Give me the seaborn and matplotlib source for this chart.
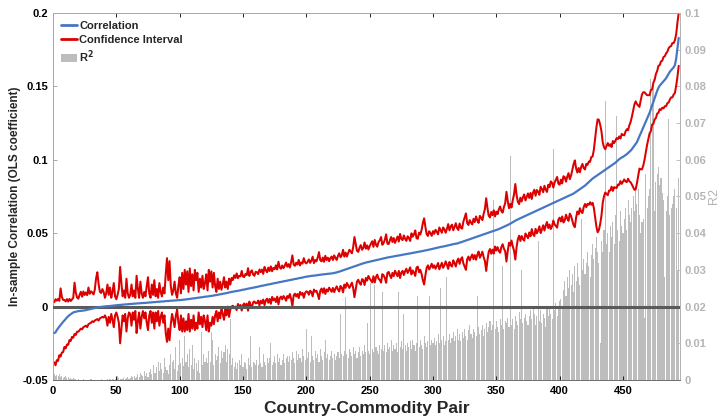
import numpy as np
import pandas as pd
import matplotlib
matplotlib.use("Agg")
import matplotlib.pyplot as plt
from matplotlib.patches import Patch
from matplotlib.lines import Line2D
import seaborn as sns

# Correlation (OLS coefficient) per country-commodity pair, sorted, in units of 1e-4
corr_e4 = [
    -180, -175, -160, -148, -136, -126, -115, -104, -95, -85, -74, -66, -58, -52, -46, -40, -37, -35, -33, -31,
    -30, -29, -28, -27, -26, -24, -22, -20, -18, -16, -14, -12, -10, -8, -6, -5, -4, -2, -1, 0,
    1, 2, 3, 3, 4, 5, 6, 7, 8, 9, 10, 11, 11, 12, 13, 14, 15, 15, 16, 17,
    18, 18, 19, 20, 20, 21, 22, 22, 23, 24, 24, 25, 25, 26, 27, 28, 28, 29, 30, 30,
    31, 32, 33, 33, 34, 35, 35, 36, 37, 38, 38, 39, 40, 40, 41, 42, 42, 43, 44, 44,
    45, 46, 47, 48, 49, 50, 51, 52, 54, 55, 56, 57, 58, 60, 61, 62, 63, 64, 66, 67,
    68, 69, 70, 72, 73, 74, 76, 77, 79, 80, 82, 84, 85, 87, 89, 90, 92, 94, 96, 98,
    100, 101, 103, 105, 106, 108, 109, 111, 113, 115, 116, 118, 120, 122, 124, 125, 127, 129, 130, 132,
    134, 136, 138, 140, 142, 143, 145, 147, 149, 151, 152, 154, 156, 158, 160, 161, 163, 165, 167, 168,
    170, 172, 174, 175, 177, 179, 181, 182, 184, 186, 188, 189, 191, 193, 195, 196, 198, 200, 202, 204,
    205, 206, 208, 209, 210, 211, 212, 213, 214, 216, 217, 218, 219, 220, 221, 222, 223, 224, 225, 226,
    227, 229, 231, 233, 236, 238, 241, 244, 247, 250, 253, 256, 259, 262, 265, 268, 271, 274, 277, 280,
    283, 286, 289, 292, 295, 297, 300, 302, 304, 306, 308, 310, 312, 314, 316, 318, 320, 322, 324, 326,
    328, 330, 332, 334, 336, 337, 339, 340, 342, 344, 345, 347, 348, 350, 351, 353, 355, 356, 358, 359,
    361, 362, 364, 366, 367, 369, 371, 372, 374, 376, 377, 379, 381, 383, 384, 386, 388, 390, 392, 394,
    396, 398, 400, 402, 404, 406, 408, 409, 411, 413, 415, 417, 419, 421, 423, 425, 427, 428, 430, 432,
    436, 438, 441, 444, 447, 450, 453, 456, 459, 462, 465, 468, 471, 474, 477, 480, 483, 486, 489, 492,
    495, 498, 501, 504, 507, 510, 513, 516, 519, 522, 525, 528, 532, 536, 540, 544, 548, 552, 556, 560,
    565, 570, 575, 580, 585, 590, 594, 598, 602, 606, 610, 614, 618, 622, 626, 630, 634, 638, 642, 646,
    650, 654, 658, 662, 666, 670, 674, 678, 682, 686, 690, 694, 698, 702, 706, 710, 714, 718, 722, 726,
    730, 734, 738, 742, 746, 750, 754, 758, 762, 766, 770, 776, 782, 788, 794, 800, 806, 812, 818, 824,
    832, 840, 848, 856, 864, 872, 878, 884, 890, 896, 902, 908, 914, 920, 926, 932, 938, 944, 950, 956,
    962, 968, 974, 980, 988, 996, 1004, 1010, 1016, 1020, 1026, 1032, 1038, 1046, 1054, 1062, 1072, 1084, 1096, 1108,
    1120, 1140, 1160, 1180, 1200, 1220, 1240, 1260, 1280, 1300, 1320, 1345, 1370, 1395, 1420, 1445, 1470, 1490, 1505, 1515,
    1525, 1535, 1545, 1555, 1570, 1585, 1600, 1610, 1620, 1630, 1645, 1690, 1760, 1830,
]

# Distance from the correlation up to the upper confidence bound, units of 1e-4
ci_up_e4 = [
    210, 225, 200, 200, 175, 250, 180, 150, 140, 120, 125, 100, 110, 90, 95, 100, 200, 130, 95, 85,
    110, 130, 95, 130, 105, 120, 100, 150, 105, 120, 110, 95, 125, 200, 240, 160, 105, 95, 120, 100,
    59, 88, 147, 77, 126, 55, 94, 153, 62, 41, 70, 109, 259, 148, 57, 96, 45, 175, 74, 43,
    62, 132, 51, 90, 40, 189, 98, 38, 147, 66, 36, 75, 45, 114, 173, 62, 32, 121, 50, 150,
    39, 88, 27, 127, 66, 35, 95, 54, 183, 292, 142, 271, 100, 40, 69, 128, 48, 17, 96, 156,
    45, 184, 73, 202, 101, 190, 49, 208, 86, 165, 54, 193, 122, 170, 39, 128, 67, 146, 54, 93,
    152, 41, 180, 98, 167, 56, 154, 63, 21, 110, 38, 86, 30, 63, 111, 40, 78, 26, 94, 52,
    95, 80, 110, 90, 120, 85, 100, 95, 130, 90, 85, 105, 95, 140, 85, 110, 120, 90, 80, 105,
    100, 85, 115, 95, 110, 80, 125, 100, 85, 115, 90, 120, 85, 105, 95, 120, 90, 140, 100, 90,
    110, 90, 105, 125, 95, 110, 85, 120, 165, 100, 90, 110, 95, 125, 85, 105, 95, 130, 100, 90,
    100, 115, 90, 105, 130, 85, 105, 95, 120, 155, 100, 90, 115, 85, 125, 95, 110, 85, 105, 115,
    90, 120, 100, 85, 110, 125, 95, 105, 140, 90, 115, 85, 105, 125, 110, 95, 135, 200, 150, 100,
    90, 115, 130, 95, 105, 140, 95, 115, 85, 105, 120, 135, 95, 140, 105, 90, 120, 130, 150, 95,
    105, 125, 160, 95, 90, 115, 135, 100, 125, 90, 110, 130, 95, 145, 110, 100, 130, 105, 90, 120,
    105, 85, 135, 110, 125, 150, 95, 90, 130, 115, 145, 190, 220, 160, 110, 95, 125, 110, 90, 120,
    100, 125, 110, 90, 135, 115, 95, 130, 115, 90, 115, 145, 100, 125, 135, 95, 115, 140, 105, 90,
    130, 100, 90, 135, 160, 185, 115, 100, 130, 110, 95, 130, 105, 140, 110, 90, 135, 120, 100, 140,
    170, 240, 170, 115, 100, 135, 110, 140, 95, 125, 105, 135, 150, 115, 100, 135, 155, 230, 165, 110,
    135, 105, 150, 185, 250, 170, 120, 100, 140, 110, 135, 150, 105, 125, 145, 110, 140, 95, 135, 150,
    105, 140, 125, 100, 150, 130, 105, 145, 115, 95, 140, 120, 155, 140, 105, 135, 150, 165, 115, 105,
    135, 105, 150, 140, 105, 135, 155, 110, 130, 165, 200, 220, 160, 125, 150, 115, 145, 160, 125, 110,
    140, 125, 140, 130, 155, 150, 190, 260, 330, 380, 370, 330, 280, 200, 160, 140, 155, 170, 145, 150,
    125, 160, 140, 150, 160, 145, 155, 135, 160, 150, 140, 160, 170, 155, 180, 195, 220, 250, 280, 290,
    260, 230, 200, 225, 245, 240, 220, 190, 160, 140, 120, 130, 110, 130, 125, 140, 135, 150, 140, 155,
    150, 165, 160, 170, 165, 175, 170, 165, 175, 165, 170, 165, 175, 170,
]

# Distance from the correlation down to the lower confidence bound, units of 1e-4
ci_lo_e4 = [
    200, 225, 205, 222, 195, 214, 198, 206, 180, 200, 185, 194, 170, 182, 160, 172, 150, 158, 138, 140,
    130, 121, 127, 113, 109, 106, 118, 100, 97, 94, 86, 93, 85, 82, 79, 90, 76, 73, 69, 75,
    61, 82, 133, 73, 114, 55, 96, 147, 68, 49, 80, 121, 261, 162, 73, 114, 65, 185, 96, 57,
    68, 148, 59, 110, 50, 201, 122, 62, 173, 94, 54, 105, 65, 136, 187, 88, 58, 139, 70, 180,
    71, 132, 63, 163, 104, 75, 145, 96, 217, 278, 188, 269, 160, 90, 131, 182, 102, 63, 154, 204,
    105, 216, 127, 218, 149, 210, 101, 222, 144, 205, 116, 217, 168, 210, 101, 182, 133, 204, 126, 167,
    228, 129, 240, 182, 203, 144, 196, 137, 109, 180, 122, 164, 95, 137, 179, 110, 152, 94, 166, 118,
    100, 95, 115, 105, 130, 90, 110, 100, 140, 105, 95, 120, 100, 150, 90, 115, 135, 100, 95, 110,
    110, 95, 130, 100, 120, 95, 135, 105, 95, 125, 100, 135, 90, 115, 105, 130, 95, 150, 110, 100,
    120, 100, 115, 135, 105, 120, 95, 130, 180, 110, 100, 120, 105, 135, 95, 115, 105, 140, 110, 100,
    105, 125, 100, 110, 140, 95, 110, 105, 130, 165, 110, 95, 125, 95, 135, 105, 120, 95, 110, 125,
    100, 130, 110, 95, 120, 135, 100, 115, 150, 100, 125, 95, 115, 135, 120, 105, 145, 210, 160, 110,
    100, 125, 140, 105, 115, 150, 105, 125, 95, 115, 130, 145, 105, 150, 115, 100, 130, 140, 160, 105,
    115, 135, 170, 105, 100, 125, 145, 110, 135, 100, 120, 140, 105, 155, 120, 110, 140, 115, 100, 130,
    115, 95, 145, 120, 135, 160, 105, 100, 140, 125, 155, 200, 230, 170, 120, 105, 135, 120, 100, 130,
    115, 140, 125, 105, 150, 130, 110, 145, 130, 105, 130, 160, 115, 140, 150, 110, 130, 155, 120, 105,
    145, 115, 105, 150, 175, 200, 130, 115, 145, 125, 110, 145, 120, 155, 125, 105, 150, 135, 115, 155,
    185, 255, 185, 130, 115, 150, 125, 155, 110, 140, 120, 150, 165, 130, 115, 150, 170, 245, 180, 125,
    150, 120, 165, 200, 265, 185, 135, 115, 155, 125, 150, 165, 120, 140, 160, 125, 155, 110, 150, 165,
    120, 155, 140, 115, 165, 145, 120, 160, 130, 110, 155, 135, 170, 155, 120, 150, 165, 180, 130, 120,
    150, 120, 165, 155, 120, 150, 170, 125, 145, 180, 215, 235, 175, 140, 165, 130, 160, 175, 140, 125,
    155, 140, 155, 145, 170, 165, 205, 275, 345, 390, 380, 345, 295, 215, 175, 155, 170, 185, 160, 165,
    145, 180, 160, 170, 180, 165, 175, 155, 180, 170, 160, 180, 190, 175, 200, 215, 240, 270, 300, 310,
    280, 250, 220, 245, 265, 260, 240, 210, 180, 160, 140, 150, 130, 150, 145, 160, 155, 170, 160, 175,
    170, 185, 180, 190, 185, 195, 190, 185, 195, 185, 190, 185, 195, 190,
]

# R^2 of each regression, units of 1e-4
r2_e4 = [
    15, 12, 14, 10, 16, 8, 12, 6, 9, 11, 5, 7, 4, 6, 3, 5, 2, 3, 1, 2,
    1, 0, 1, 2, 0, 1, 0, 1, 0, 2, 1, 0, 1, 0, 0, 1, 0, 2, 1, 0,
    1, 0, 2, 1, 3, 1, 2, 4, 2, 8, 12, 5, 3, 4, 2, 6, 3, 5, 8, 4,
    6, 10, 7, 12, 5, 8, 15, 9, 20, 14, 10, 25, 12, 18, 8, 22, 30, 15, 40, 20,
    18, 35, 50, 25, 45, 30, 20, 60, 35, 28, 15, 40, 70, 48, 55, 30, 90, 25, 40, 110,
    45, 60, 38, 120, 50, 70, 35, 85, 40, 95, 30, 60, 45, 25, 55, 20, 130, 40, 70, 50,
    60, 45, 80, 50, 130, 110, 40, 70, 55, 65, 90, 45, 80, 60, 75, 95, 50, 85, 70, 165,
    40, 60, 35, 50, 30, 45, 55, 40, 70, 35, 50, 45, 30, 60, 40, 120, 35, 50, 45, 40,
    55, 40, 90, 45, 35, 70, 50, 40, 60, 45, 60, 100, 40, 50, 65, 45, 70, 50, 60, 40,
    55, 70, 45, 60, 65, 50, 65, 55, 75, 60, 45, 80, 55, 70, 60, 50, 85, 65, 55, 140,
    60, 75, 50, 120, 65, 55, 80, 60, 70, 50, 85, 65, 55, 75, 110, 60, 70, 55, 65, 80,
    60, 70, 55, 65, 75, 60, 180, 70, 65, 80, 225, 70, 60, 85, 75, 65, 90, 70, 80, 60,
    75, 90, 65, 80, 70, 95, 75, 155, 80, 70, 265, 85, 75, 260, 90, 80, 70, 95, 85, 240,
    80, 95, 75, 100, 85, 90, 110, 80, 95, 85, 100, 75, 240, 90, 105, 85, 180, 95, 80, 100,
    90, 105, 85, 110, 95, 80, 100, 230, 90, 110, 95, 85, 120, 100, 90, 105, 230, 95, 110, 100,
    115, 95, 105, 125, 100, 250, 110, 120, 95, 105, 280, 110, 125, 100, 115, 130, 105, 120, 140, 110,
    125, 105, 130, 115, 140, 120, 110, 135, 150, 125, 115, 140, 130, 120, 230, 145, 125, 135, 150, 120,
    140, 155, 130, 145, 160, 135, 150, 490, 140, 160, 145, 130, 165, 150, 310, 140, 160, 155, 170, 145,
    610, 150, 165, 140, 175, 160, 150, 185, 165, 300, 155, 170, 180, 160, 150, 175, 190, 165, 200, 180,
    150, 175, 380, 160, 190, 155, 180, 170, 145, 195, 175, 200, 180, 165, 630, 190, 210, 175, 200, 215,
    220, 200, 245, 270, 230, 280, 250, 300, 260, 290, 240, 310, 270, 320, 280, 260, 440, 300, 330, 290,
    320, 350, 310, 280, 340, 370, 330, 360, 390, 350, 320, 100, 380, 350, 410, 760, 370, 400, 350, 420,
    390, 430, 370, 450, 720, 410, 380, 460, 420, 400, 440, 470, 410, 490, 450, 430, 470, 500, 460, 520,
    480, 520, 450, 400, 430, 440, 170, 560, 470, 500, 520, 820, 790, 820, 460, 540, 560, 580, 530, 550,
    510, 490, 280, 460, 500, 710, 450, 470, 480, 500, 520, 470, 300, 550,
]

corr = np.array(corr_e4) / 1e4
ci_up = np.array(ci_up_e4) / 1e4
ci_lo = np.array(ci_lo_e4) / 1e4
r2 = np.array(r2_e4) / 1e4
pairs = np.arange(1, len(corr) + 1)

df = pd.DataFrame({
    "pair": pairs,
    "corr": corr,
    "upper": corr + ci_up,
    "lower": corr - ci_lo,
    "r2": r2,
})

sns.set_style("ticks")
plt.rcParams["font.family"] = ["Liberation Sans", "DejaVu Sans"]
plt.rcParams["font.weight"] = "bold"

blue = "#4677C4"
red = "#DD0000"
bar_gray = "#BDBDBD"
right_gray = "#B4B4B4"

fig, ax = plt.subplots(figsize=(7.22, 4.19), dpi=100)
fig.subplots_adjust(left=0.0734, right=0.9418, bottom=0.0931, top=0.969)
ax2 = ax.twinx()

# R^2 bars on the right axis, drawn behind the lines
sns.barplot(data=df, x="pair", y="r2", native_scale=True, ax=ax2, color=bar_gray,
            saturation=1, width=0.85, linewidth=0, errorbar=None)

sns.lineplot(data=df, x="pair", y="upper", ax=ax, color=red, lw=1.45, zorder=2, legend=False)
sns.lineplot(data=df, x="pair", y="lower", ax=ax, color=red, lw=1.45, zorder=2, legend=False)
ax.axhline(0, color="#5A5A5A", lw=2.2, zorder=3)
sns.lineplot(data=df, x="pair", y="corr", ax=ax, color=blue, lw=1.6, zorder=4, legend=False)

ax.set_zorder(ax2.get_zorder() + 1)
ax.patch.set_visible(False)

ax.set_xlim(0, 495)
ax.set_ylim(-0.05, 0.2)
ax2.set_ylim(0, 0.1)

ax.set_xticks(np.arange(0, 451, 50))
ax.set_xticklabels([str(v) for v in range(0, 451, 50)])
yt = [-0.05, 0, 0.05, 0.1, 0.15, 0.2]
ax.set_yticks(yt)
ax.set_yticklabels(["-0.05", "0", "0.05", "0.1", "0.15", "0.2"])
yt2 = np.arange(0, 0.101, 0.01)
ax2.set_yticks(yt2)
ax2.set_yticklabels(["0"] + ["%g" % round(v, 2) for v in yt2[1:]])

ax.tick_params(axis="both", direction="in", length=3, labelsize=8, colors="black",
               top=True, width=0.6)
ax.tick_params(axis="x", pad=4)
ax.tick_params(axis="y", color="#999999")
ax2.tick_params(axis="y", direction="in", length=3, labelsize=8, colors=right_gray, width=0.6)
ax2.tick_params(axis="x", bottom=False, top=False)
for lab in ax.get_xticklabels() + ax.get_yticklabels() + ax2.get_yticklabels():
    lab.set_fontweight("bold")

ax.set_xlabel("Country-Commodity Pair", fontsize=12.5, fontweight="bold", labelpad=4)
ax.set_ylabel("In-sample Correlation (OLS coefficient)", fontsize=8.5, fontweight="bold", labelpad=1)
ax2.set_ylabel("R2", fontsize=9, color=right_gray, labelpad=1)
ax2.set_xlabel("")

for sp in ["left", "top"]:
    ax.spines[sp].set_color("#AAAAAA")
    ax2.spines[sp].set_color("#AAAAAA")
ax.spines["bottom"].set_color("#707070")
ax2.spines["bottom"].set_color("#707070")
ax.spines["right"].set_color(right_gray)
ax2.spines["right"].set_color(right_gray)
for a in (ax, ax2):
    for sp in a.spines.values():
        sp.set_linewidth(0.7)

handles = [
    Line2D([], [], color=blue, lw=2),
    Line2D([], [], color=red, lw=2),
    Patch(facecolor=bar_gray, edgecolor="none"),
]
ax.legend(handles, ["Correlation", "Confidence Interval", "R$^2$"], loc="upper left",
          bbox_to_anchor=(0.0, 1.0), frameon=False, handlelength=1.5,
          handletextpad=0.15, labelspacing=0.35, borderaxespad=0.3,
          prop={"weight": "bold", "size": 8})

fig.savefig("out.png", dpi=100)
